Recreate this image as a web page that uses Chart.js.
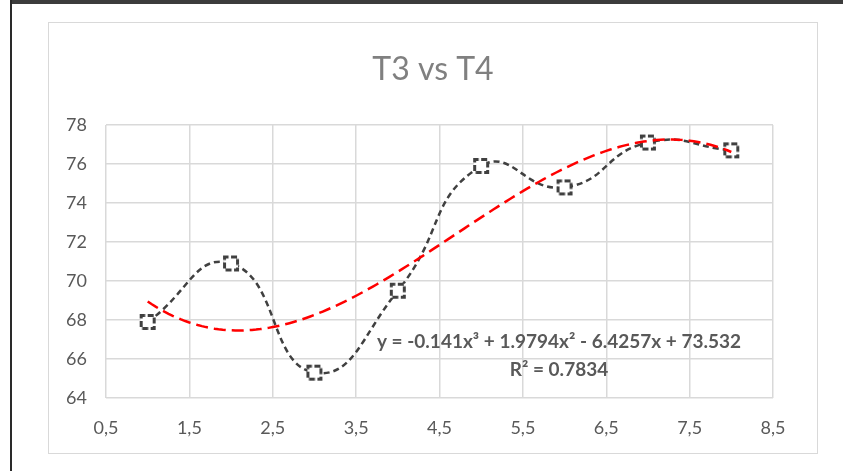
<!DOCTYPE html>
<html>
<head>
<meta charset="utf-8">
<script src="https://cdn.jsdelivr.net/npm/chart.js@4"></script>
<style>
  html, body { margin: 0; padding: 0; background: #fff; }
  body { width: 843px; height: 471px; position: relative; overflow: hidden; }
  .topbar { position: absolute; left: 10px; top: 0; width: 833px; height: 4px; background: #3c3c3c; }
  .leftbar { position: absolute; left: 10px; top: 0; width: 2px; height: 471px; background: #2a2a2a; }
  .box { position: absolute; left: 48px; top: 22px; width: 768px; height: 430px; border: 1.5px solid #d9d9d9; }
  canvas { position: absolute; left: 0; top: 0; }
</style>
</head>
<body>
<div class="topbar"></div>
<div class="leftbar"></div>
<div class="box"></div>
<canvas id="myChart" width="843" height="471"></canvas>
<script>
const xValues = [1, 2, 3, 4, 5, 6, 7, 8];
const t4Values = [67.9, 70.9, 65.3, 69.5, 75.9, 74.8, 77.1, 76.7];
const xTicks = [0.5, 1.5, 2.5, 3.5, 4.5, 5.5, 6.5, 7.5, 8.5];
const yTicks = [64, 66, 68, 70, 72, 74, 76, 78];
// polynomial trendline as printed on the chart
const trendCoef = [73.532, -6.4257, 1.9794, -0.141];
const trendLabel = 'y = -0.141x³ + 1.9794x² - 6.4257x + 73.532';
const r2Label = 'R² = 0.7834';

const points = xValues.map((x, i) => ({ x: x, y: t4Values[i] }));
const trendPoints = [];
for (let x = xValues[0]; x <= xValues[xValues.length - 1] + 1e-9; x += 0.05) {
  let y = 0;
  for (let k = 0; k < trendCoef.length; k++) y += trendCoef[k] * Math.pow(x, k);
  trendPoints.push({ x: x, y: y });
}

// dashed square marker like the excel one
function makeMarker() {
  const c = document.createElement('canvas');
  c.width = 18; c.height = 18;
  const g = c.getContext('2d');
  g.fillStyle = '#fff';
  g.fillRect(2, 2, 14, 14);
  g.strokeStyle = '#404040';
  g.lineWidth = 3;
  g.setLineDash([6, 2.5]);
  g.lineDashOffset = 2;
  g.strokeRect(2.5, 2.5, 13, 13);
  return c;
}
const marker = makeMarker();

const textPlugin = {
  id: 'texts',
  afterDraw(chart) {
    const ctx = chart.ctx;
    ctx.save();
    ctx.textAlign = 'center';
    ctx.textBaseline = 'middle';
    ctx.fillStyle = '#808080';
    ctx.font = '32px Lato';
    ctx.fillText('T3 vs T4', 433, 70);
    ctx.fillStyle = '#595959';
    ctx.font = 'bold 19px Lato';
    ctx.fillText(trendLabel, 559, 342);
    ctx.fillText(r2Label, 559, 370);
    ctx.restore();
  }
};

const ctx = document.getElementById('myChart').getContext('2d');
const myChart = new Chart(ctx, {
  type: 'scatter',
  data: {
    datasets: [{
      label: 'trend',
      data: trendPoints,
      showLine: true,
      borderColor: '#ff0000',
      borderWidth: 2.5,
      borderDash: [12, 6],
      pointRadius: 0,
      tension: 0,
      order: 0
    }, {
      label: 'T4',
      data: points,
      showLine: true,
      borderColor: '#404040',
      borderWidth: 2.5,
      borderDash: [6, 4],
      pointStyle: marker,
      pointRadius: 8,
      tension: 0.5,
      order: 1
    }]
  },
  options: {
    responsive: false,
    animation: false,
    devicePixelRatio: 1,
    layout: { padding: { left: 48, right: 70, top: 125, bottom: 0 } },
    plugins: { legend: { display: false }, tooltip: { enabled: false } },
    scales: {
      x: {
        type: 'linear',
        min: 0.5,
        max: 8.5,
        afterBuildTicks: (s) => { s.ticks = xTicks.map(v => ({ value: v })); },
        afterFit: (s) => { s.height = 73; },
        grid: { color: '#d9d9d9', lineWidth: 1.5, drawTicks: false },
        border: { display: false },
        ticks: {
          padding: 19,
          color: '#595959',
          font: { family: 'Lato', size: 18 },
          callback: (v) => String(v).replace('.', ',')
        }
      },
      y: {
        min: 64,
        max: 78,
        afterBuildTicks: (s) => { s.ticks = yTicks.map(v => ({ value: v })); },
        afterFit: (s) => { s.width = 58; },
        grid: { color: '#d9d9d9', lineWidth: 1.5, drawTicks: false },
        border: { display: false },
        ticks: {
          padding: 19,
          color: '#595959',
          font: { family: 'Lato', size: 18 }
        }
      }
    }
  },
  plugins: [textPlugin]
});
</script>
</body>
</html>
